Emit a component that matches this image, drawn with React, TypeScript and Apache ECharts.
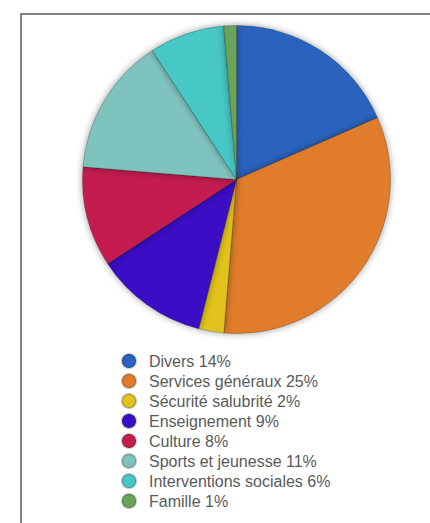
import React, { useEffect, useRef } from "react";
import * as echarts from "echarts";

const categories = [
  "Divers 14%",
  "Services généraux 25%",
  "Sécurité salubrité 2%",
  "Enseignement 9%",
  "Culture 8%",
  "Sports et jeunesse 11%",
  "Interventions sociales 6%",
  "Famille 1%",
];
const values = [14, 25, 2, 9, 8, 11, 6, 1];
const colors = [
  "#2A64BE",
  "#E07B2A",
  "#E2C21F",
  "#3A10C4",
  "#C41E4F",
  "#7FC3BF",
  "#47C7C5",
  "#6BA35A",
];

export default function App() {
  const ref = useRef<HTMLDivElement>(null);
  useEffect(() => {
    if (!ref.current) return;
    const chart = echarts.init(ref.current, undefined, { renderer: "svg" });
    chart.setOption({
      animation: false,
      backgroundColor: "#ffffff",
      color: colors,
      graphic: [
        {
          type: "rect",
          shape: { x: 21, y: 14, width: 520, height: 620 },
          style: { fill: "none", stroke: "#828282", lineWidth: 2 },
          silent: true,
        },
      ],
      legend: {
        orient: "vertical",
        left: 116,
        top: 348,
        height: 170,
        padding: 5,
        itemWidth: 14,
        itemHeight: 14,
        itemGap: 4,
        icon: "circle",
        selectedMode: false,
        textStyle: {
          fontFamily: "Liberation Sans, Arial, sans-serif",
          fontSize: 16,
          color: "#5a5a5a",
          padding: [0, 0, 0, 8],
        },
        data: categories,
      },
      series: [
        {
          type: "pie",
          center: [236.5, 179.5],
          radius: 154,
          startAngle: 90,
          clockwise: true,
          label: { show: false },
          labelLine: { show: false },
          emphasis: { disabled: true },
          itemStyle: {
            borderColor: "rgba(0,0,0,0.22)",
            borderWidth: 1,
            shadowBlur: 7,
            shadowColor: "rgba(0,0,0,0.4)",
          },
          data: categories.map((name, i) => ({ name, value: values[i] })),
        },
      ],
    });
    return () => chart.dispose();
  }, []);
  return (
    <div
      ref={ref}
      style={{ position: "fixed", left: 0, top: 0, width: 430, height: 523 }}
    />
  );
}
